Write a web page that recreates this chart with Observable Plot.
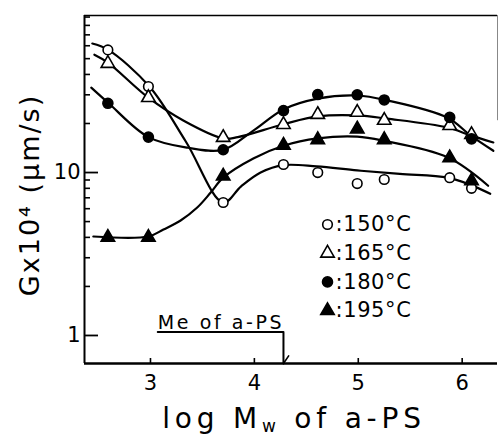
<!DOCTYPE html>
<html><head><meta charset="utf-8">
<script src="https://cdn.jsdelivr.net/npm/d3@7"></script>
<script src="https://cdn.jsdelivr.net/npm/@observablehq/plot@0.6"></script>
<style>
body{margin:0;background:#fff;}
#chart svg{font-family:"DejaVu Sans",sans-serif;}
</style>
</head><body><div id="chart"></div>
<script>
// ---- data ----
const temps = ["150", "165", "180", "195"];
const logMw = [2.59, 2.98, 3.70, 4.28, 4.61, 4.99, 5.25, 5.88, 6.09];
const g150 = [56.6, 33.7, 6.55, 11.2, 10.0, 8.56, 9.06, 9.3, 8.0];
const g165 = [46.7, 28.8, 16.4, 19.7, 22.7, 23.4, 20.9, 19.4, 17.1];
const g180 = [26.6, 16.5, 13.8, 24.0, 30.1, 30.0, 27.9, 21.8, 16.1];
const g195 = [4.0, 4.0, 9.5, 14.7, 15.9, 18.5, 15.9, 12.3, 8.9];

// smooth hand-drawn curves
const c150x = [2.44, 2.59, 2.99, 3.34, 3.70, 3.87, 4.06, 4.28, 4.60, 4.99, 5.40, 5.86, 6.08, 6.27];
const c150y = [61.9, 56.8, 33.7, 15.5, 6.55, 8.2, 10.0, 11.1, 10.9, 10.3, 9.8, 9.3, 8.4, 7.4];
const c165x = [2.46, 2.59, 2.98, 3.32, 3.70, 3.84, 4.28, 4.61, 4.99, 5.28, 5.86, 6.08, 6.30];
const c165y = [52.9, 47.3, 28.8, 20.8, 16.2, 16.5, 19.8, 22.1, 22.4, 21.4, 18.9, 16.9, 15.3];
const c180x = [2.43, 2.59, 2.98, 3.36, 3.70, 3.99, 4.28, 4.61, 4.99, 5.28, 5.86, 6.08, 6.30];
const c180y = [33.2, 26.9, 16.5, 14.2, 13.8, 18.1, 24.4, 28.4, 29.7, 27.7, 21.7, 16.9, 13.6];
const c195x = [2.45, 2.98, 3.125, 3.29, 3.45, 3.58, 3.70, 3.99, 4.28, 4.61, 4.99, 5.24, 5.86, 6.25];
const c195y = [4.05, 4.05, 4.47, 5.08, 6.10, 7.54, 9.3, 12.2, 14.6, 16.2, 16.6, 15.7, 12.4, 8.3];

// axis domains and ticks
const xDomain = [2.365, 6.34];
const yDomain = [0.673, 92];
const xTicks = [3, 4, 5, 6];
const yMajor = [1, 10];
const yMinor = [2, 3, 4, 5, 6, 7, 8, 9, 20, 30, 40, 50, 60, 70, 80, 90];

// Me annotation (entanglement molecular weight of a-PS)
const meText = "Me of a-PS";
const meX = [3.07, 4.28, 4.28];
const meY = [1.05, 1.05, 0.673];
const meHeadX = [4.28, 4.33];
const meHeadY = [0.673, 0.75];

// ---- build ----
const seriesG = {"150": g150, "165": g165, "180": g180, "195": g195};
const curves = {"150": [c150x, c150y], "165": [c165x, c165y], "180": [c180x, c180y], "195": [c195x, c195y]};
const look = {
  "150": {symbol: "circle", fill: "white", r: 4.8},
  "165": {symbol: "triangle", fill: "white", r: 5},
  "180": {symbol: "circle", fill: "black", r: 5},
  "195": {symbol: "triangle", fill: "black", r: 5}
};
const legendLabels = temps.map(t => `:${t}°C`);

const marks = [];
// frame
marks.push(Plot.ruleY([yDomain[1]], {stroke: "black", strokeWidth: 1.6}));
marks.push(Plot.ruleX([xDomain[1]], {y1: 20.8, y2: yDomain[1], stroke: "#888", strokeWidth: 1}));
// axes
marks.push(Plot.axisY({ticks: yMinor, tickSize: -6, tickFormat: () => "", label: null, strokeWidth: 1.6}));
marks.push(Plot.axisY({ticks: yMajor, tickSize: -14, tickFormat: () => "", label: null, strokeWidth: 1.8}));
marks.push(Plot.axisY({ticks: yMajor, tickSize: 0, tickPadding: 4, tickFormat: d => String(d), label: null, fontSize: 21}));
marks.push(Plot.axisX({ticks: xTicks, tickSize: -5, tickFormat: () => "", label: null, strokeWidth: 1.6}));
marks.push(Plot.axisX({ticks: xTicks, tickSize: 0, tickPadding: 12, tickFormat: d => String(d), label: null, fontSize: 21}));
marks.push(Plot.ruleY([yDomain[0]], {stroke: "black", strokeWidth: 2.4}));
marks.push(Plot.ruleX([xDomain[0]], {stroke: "black", strokeWidth: 2}));

// curves
for (const t of temps) {
  const [cx, cy] = curves[t];
  marks.push(Plot.line(d3.zip(cx, cy), {x: d => d[0], y: d => d[1], curve: "catmull-rom", stroke: "black", strokeWidth: 2.2}));
}
// points
for (const t of temps) {
  const L = look[t];
  marks.push(Plot.dot(d3.zip(logMw, seriesG[t]), {x: d => d[0], y: d => d[1], symbol: L.symbol, r: L.r, fill: L.fill, stroke: "black", strokeWidth: 1.6}));
}
// Me annotation
marks.push(Plot.line(d3.zip(meX, meY), {x: d => d[0], y: d => d[1], stroke: "black", strokeWidth: 2}));
marks.push(Plot.line(d3.zip(meHeadX, meHeadY), {x: d => d[0], y: d => d[1], stroke: "black", strokeWidth: 1.6}));
marks.push(Plot.text([meText], {x: meX[0], y: meY[0], text: d => d, textAnchor: "start", lineAnchor: "bottom", dy: -3, fontSize: 19}));

// legend (inside plot)
temps.forEach((t, i) => {
  const L = look[t];
  marks.push(Plot.dot([t], {frameAnchor: "top-left", dx: 243, dy: 209 + i * 28.7, symbol: L.symbol, r: L.r, fill: L.fill, stroke: "black", strokeWidth: 1.6}));
  marks.push(Plot.text([legendLabels[i]], {frameAnchor: "top-left", dx: 251, dy: 209 + i * 28.7, text: d => d, textAnchor: "start", lineAnchor: "middle", fontSize: 21}));
});

const chart = Plot.plot({
  width: 498,
  height: 437,
  marginLeft: 84,
  marginRight: 1,
  marginTop: 15,
  marginBottom: 74,
  style: {background: "#fff", color: "black", fontFamily: "DejaVu Sans, sans-serif"},
  x: {domain: xDomain, axis: null},
  y: {type: "log", domain: yDomain, axis: null},
  marks
});
document.getElementById("chart").appendChild(chart);

const svg = d3.select(chart);
svg.selectAll("text").filter(function () { return this.textContent === meText; })
  .attr("letter-spacing", "2.6px");
svg.selectAll("text").filter(function () { return legendLabels.includes(this.textContent); })
  .attr("letter-spacing", "0.6px");

// axis titles (with subscript)
const xt = svg.append("text")
  .attr("x", 294).attr("y", 428)
  .attr("text-anchor", "middle")
  .attr("font-size", 28)
  .attr("letter-spacing", "4.8px")
  .attr("fill", "black");
xt.append("tspan").text("log M");
xt.append("tspan").attr("font-size", 17).attr("dy", 4).text("w");
xt.append("tspan").attr("dy", -4).text(" of a-PS");

svg.append("text")
  .attr("transform", "translate(39,195) rotate(-90)")
  .attr("text-anchor", "middle")
  .attr("font-size", 27)
  .attr("letter-spacing", "2px")
  .attr("fill", "black")
  .text("Gx10⁴ (μm/s)");
</script>
</body></html>
